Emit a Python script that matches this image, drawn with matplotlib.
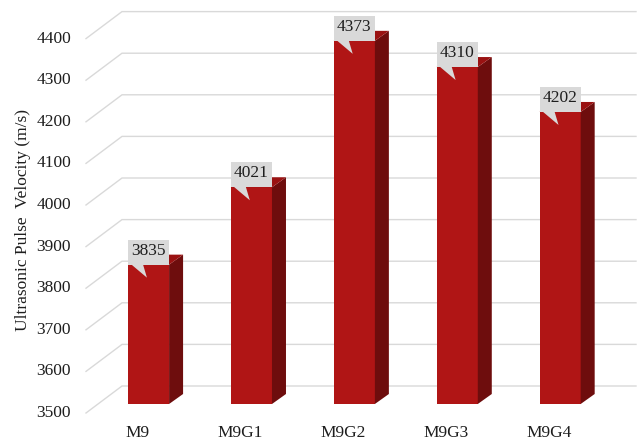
import matplotlib
matplotlib.use("Agg")
import matplotlib.pyplot as plt
from matplotlib.patches import Polygon, Rectangle

# ---- data ----
categories = ["M9", "M9G1", "M9G2", "M9G3", "M9G4"]
velocities = [3835, 4021, 4373, 4310, 4202]
y_ticks = [3500, 3600, 3700, 3800, 3900, 4000, 4100, 4200, 4300, 4400]
y_label = "Ultrasonic Pulse  Velocity (m/s)"
base_value = 3500

# ---- layout constants (pixels) ----
W, H, DPI = 638, 444, 100
CAT_PX = 102.9      # px per category
VAL_PX = 0.416      # px per m/s
X0_PX = 148.5       # pixel x of first bar centre
BASE_PX = 404       # pixel y (from top) of bar bottom


def px_x(dx):
    return dx / CAT_PX


def px_y(dy):
    return dy / VAL_PX


FRONT_C = "#B01515"
SIDE_C = "#6E0D0D"
TOP_C = "#9A1212"
GRID_C = "#D9D9D9"
BOX_C = "#D9D9D9"
TEXT_C = "#1E1E1E"
FONT = ["Liberation Serif", "DejaVu Serif"]

fig = plt.figure(figsize=(W / DPI, H / DPI), dpi=DPI)
ax = fig.add_axes([0, 0, 1, 1])
ax.set_xlim(-X0_PX / CAT_PX, (W - X0_PX) / CAT_PX)
ax.set_ylim(base_value - (H - BASE_PX) / VAL_PX, base_value + BASE_PX / VAL_PX)
ax.axis("off")

# ---- gridlines (floor-front diagonal + back wall) ----
gx_front = px_x(86 - X0_PX)
gx_back = px_x(122 - X0_PX)
gx_end = px_x(636 - X0_PX)
for t in y_ticks:
    yf = t - px_y(9)
    yb = t + px_y(18)
    ax.plot([gx_front, gx_back, gx_end], [yf, yb, yb], color=GRID_C, lw=1.0,
            zorder=1, solid_joinstyle="miter")
    ax.text(px_x(71 - X0_PX), yf, str(t), ha="right", va="center",
            fontsize=12.5, family=FONT, color=TEXT_C)

# ---- bars ----
bw = 0.4
ddx, ddy = px_x(14), px_y(10)
xs = list(range(len(categories)))
ax.bar(xs, [v - base_value for v in velocities], bottom=base_value, width=bw,
       color=FRONT_C, edgecolor="none", zorder=3)
for i, v in zip(xs, velocities):
    r = i + bw / 2
    l = i - bw / 2
    side = Polygon([(r, base_value), (r + ddx, base_value + ddy),
                    (r + ddx, v + ddy), (r, v)], closed=True,
                   facecolor=SIDE_C, edgecolor="none", zorder=3)
    top = Polygon([(l, v), (l + ddx, v + ddy), (r + ddx, v + ddy), (r, v)],
                  closed=True, facecolor=TOP_C, edgecolor="none", zorder=3)
    ax.add_patch(side)
    ax.add_patch(top)

    # callout label
    box_h = px_y(25)
    ax.add_patch(Rectangle((l, v), bw, box_h, facecolor=BOX_C,
                           edgecolor="none", zorder=4))
    tail = Polygon([(l + px_x(3), v + px_y(0.5)), (l + px_x(15), v + px_y(0.5)),
                    (l + px_x(19), v - px_y(13))], closed=True,
                   facecolor=BOX_C, edgecolor="none", zorder=4)
    ax.add_patch(tail)
    ax.text(i, v + box_h / 2 + px_y(1.5), str(v), ha="center", va="center",
            fontsize=12.5, family=FONT, color=TEXT_C, zorder=5)

    # category label
    ax.text(i - px_x(11), base_value - px_y(29), categories[i], ha="center",
            va="center", fontsize=12.5, family=FONT, color=TEXT_C)

# ---- y-axis title ----
ax.text(px_x(23 - X0_PX), base_value + px_y(BASE_PX - 220), y_label,
        rotation=90, ha="center", va="center", fontsize=12.5, family=FONT,
        color=TEXT_C)

fig.savefig("out.png", dpi=DPI)
